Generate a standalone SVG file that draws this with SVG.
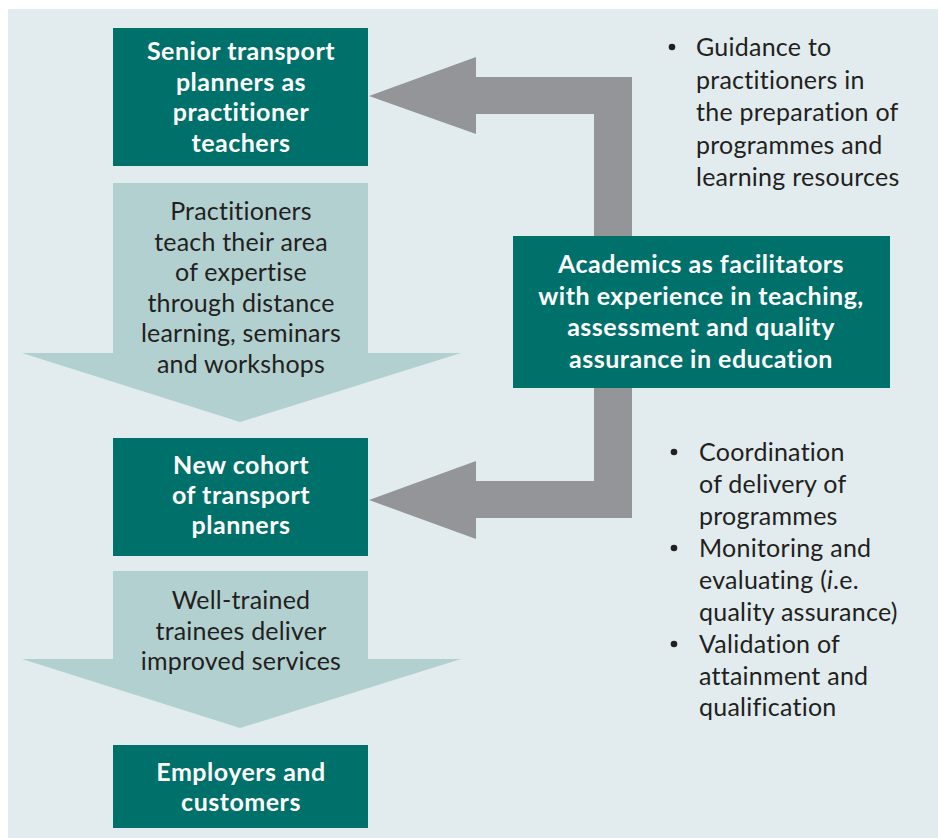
<svg xmlns="http://www.w3.org/2000/svg" width="938" height="838" viewBox="0 0 938 838">
  <style>
    .panel { fill: #e2ecee; }
    .box { fill: #00706b; }
    .flow { fill: #b2d0d0; }
    .loop { fill: #939598; }
    text { font-family: Lato, "Open Sans", "Liberation Sans", sans-serif; font-variant-ligatures: none; }
    .head { font-weight: bold; font-size: 25px; letter-spacing: 0.5px; fill: #ffffff; text-anchor: middle; }
    .body { font-size: 25px; letter-spacing: 0.2px; fill: #231f20; text-anchor: middle; }
    .note { font-size: 25px; letter-spacing: 0.25px; fill: #231f20; }
  </style>

  <rect class="panel" x="8" y="9" width="930" height="829"/>

  <!-- connectors: grey feedback arrows and pale flow arrows -->
  <g id="connectors">
    <polygon class="flow" points="113,183 368,183 368,353 461,353 240,422 22,353 113,353"/>
    <polygon class="flow" points="113,571 368,571 368,659 461,659 240,728 22,659 113,659"/>
    <polygon class="loop" points="369,96 476,57 476,77 632,77 632,236 594,236 594,114 476,114 476,134"/>
    <polygon class="loop" points="594,388 632,388 632,518 476,518 476,539 369,500 476,461 476,481 594,481"/>
  </g>

  <g id="flow-label-1">
    <text class="body" x="241" y="220">Practitioners</text>
    <text class="body" x="241" y="250.5">teach their area</text>
    <text class="body" x="241" y="281">of expertise</text>
    <text class="body" x="241" y="311.5">through distance</text>
    <text class="body" x="241" y="342">learning, seminars</text>
    <text class="body" x="241" y="372.5">and workshops</text>
  </g>

  <g id="flow-label-2">
    <text class="body" x="241" y="609">Well-trained</text>
    <text class="body" x="241" y="639.5">trainees deliver</text>
    <text class="body" x="241" y="670">improved services</text>
  </g>

  <g id="senior-planners">
    <rect class="box" x="113" y="28" width="255" height="138"/>
    <text class="head" x="241" y="60">Senior transport</text>
    <text class="head" x="241" y="90.5">planners as</text>
    <text class="head" x="241" y="121">practitioner</text>
    <text class="head" x="241" y="151.5">teachers</text>
  </g>

  <g id="new-cohort">
    <rect class="box" x="113" y="438" width="255" height="118"/>
    <text class="head" x="241" y="474">New cohort</text>
    <text class="head" x="241" y="504">of transport</text>
    <text class="head" x="241" y="534">planners</text>
  </g>

  <g id="employers">
    <rect class="box" x="113" y="745" width="255" height="83"/>
    <text class="head" x="241" y="781">Employers and</text>
    <text class="head" x="241" y="811">customers</text>
  </g>

  <g id="academics">
    <rect class="box" x="513" y="236" width="377" height="152"/>
    <text class="head" x="701" y="273">Academics as facilitators</text>
    <text class="head" x="701" y="304.7">with experience in teaching,</text>
    <text class="head" x="701" y="336.3">assessment and quality</text>
    <text class="head" x="701" y="368">assurance in education</text>
  </g>

  <g id="guidance-notes">
    <circle cx="672" cy="47" r="3.3" fill="#231f20"/>
    <text class="note" x="696" y="56">Guidance to</text>
    <text class="note" x="696" y="88.5">practitioners in</text>
    <text class="note" x="696" y="121">the preparation of</text>
    <text class="note" x="696" y="153.5">programmes and</text>
    <text class="note" x="696" y="186">learning resources</text>
  </g>

  <g id="delivery-notes">
    <circle cx="674" cy="452" r="3.3" fill="#231f20"/>
    <text class="note" x="699" y="461">Coordination</text>
    <text class="note" x="699" y="493">of delivery of</text>
    <text class="note" x="699" y="524.5">programmes</text>
    <circle cx="674" cy="548" r="3.3" fill="#231f20"/>
    <text class="note" x="699" y="556.5">Monitoring and</text>
    <text class="note" x="699" y="588.5">evaluating (<tspan font-style="italic">i</tspan>.e.</text>
    <text class="note" x="699" y="620.5">quality assurance)</text>
    <circle cx="674" cy="644" r="3.3" fill="#231f20"/>
    <text class="note" x="699" y="652.5">Validation of</text>
    <text class="note" x="699" y="684.5">attainment and</text>
    <text class="note" x="699" y="716">qualification</text>
  </g>
</svg>
